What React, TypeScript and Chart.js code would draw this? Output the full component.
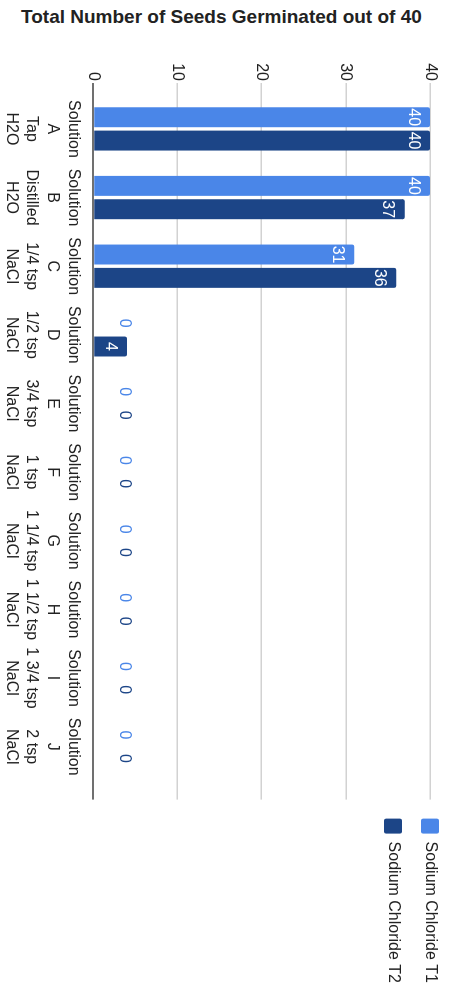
import React, { useEffect, useRef } from 'react';
import { Chart, registerables } from 'chart.js';

Chart.register(...registerables);

// ---- data ----
const chartTitle = 'Total Number of Seeds Germinated out of 40';
const categoryLabels: string[][] = [
  ['Solution', 'A', 'Tap', 'H2O'],
  ['Solution', 'B', 'Distilled', 'H2O'],
  ['Solution', 'C', '1/4 tsp', 'NaCl'],
  ['Solution', 'D', '1/2 tsp', 'NaCl'],
  ['Solution', 'E', '3/4 tsp', 'NaCl'],
  ['Solution', 'F', '1 tsp', 'NaCl'],
  ['Solution', 'G', '1 1/4 tsp', 'NaCl'],
  ['Solution', 'H', '1 1/2 tsp', 'NaCl'],
  ['Solution', 'I', '1 3/4 tsp', 'NaCl'],
  ['Solution', 'J', '2 tsp', 'NaCl'],
];
const seriesNames = ['Sodium Chloride T1', 'Sodium Chloride T2'];
const t1Values = [40, 40, 31, 0, 0, 0, 0, 0, 0, 0];
const t2Values = [40, 37, 36, 4, 0, 0, 0, 0, 0, 0];
const valueMin = 0;
const valueMax = 40;
const valueStep = 10;

// ---- styles ----
const COLORS = ['#4a86e8', '#1c4587'];
const FONT = '"Liberation Sans", Arial, Helvetica, sans-serif';
const TEXT = '#222222';
const W_U = 954; // unrotated canvas width (page vertical)
const H_U = 449; // unrotated canvas height (page horizontal)

const barLabelPlugin = {
  id: 'barLabels',
  afterDatasetsDraw(chart: any) {
    const ctx = chart.ctx;
    ctx.save();
    ctx.font = `16px ${FONT}`;
    ctx.textAlign = 'center';
    ctx.textBaseline = 'middle';
    chart.data.datasets.forEach((ds: any, di: number) => {
      const meta = chart.getDatasetMeta(di);
      meta.data.forEach((bar: any, i: number) => {
        const v = ds.data[i].y;
        const { x, y, base } = bar.getProps(['x', 'y', 'base'], true);
        const len = base - y;
        if (len > 24) {
          ctx.fillStyle = '#ffffff';
          ctx.fillText(String(v), x, y + 17);
        } else {
          ctx.fillStyle = COLORS[di];
          ctx.fillText(String(v), x, base - 31);
        }
      });
    });
    ctx.restore();
  },
};

export default function App() {
  const canvasRef = useRef<HTMLCanvasElement | null>(null);

  useEffect(() => {
    const canvas = canvasRef.current;
    if (!canvas) return;
    const seriesValues = [t1Values, t2Values];
    const chart = new Chart(canvas, {
      type: 'bar',
      data: {
        datasets: seriesNames.map((name, si) => ({
          label: name,
          data: seriesValues[si].map((v, i) => ({ x: i, y: v })),
          backgroundColor: COLORS[si],
          borderWidth: 0,
          borderRadius: 2,
          categoryPercentage: 0.68,
          barPercentage: 0.855,
        })),
      },
      options: {
        animation: false,
        responsive: false,
        devicePixelRatio: 1,
        layout: { padding: { top: -9, right: 1, bottom: 0, left: 0 } },
        plugins: {
          title: { display: false },
          tooltip: { enabled: false },
          legend: {
            display: true,
            position: 'right',
            align: 'start',
            labels: {
              font: { family: FONT, size: 16 },
              color: TEXT,
              boxWidth: 15,
              boxHeight: 18,
              padding: 19,
              useBorderRadius: true,
              borderRadius: 2,
            },
          },
        },
        scales: {
          x: {
            type: 'linear',
            position: 'bottom',
            offset: false,
            min: -0.6688,
            max: 9.7706,
            afterBuildTicks: (axis: any) => {
              axis.ticks = categoryLabels.map((_, i) => ({ value: i }));
            },
            afterFit: (s: any) => {
              s.height = 93.3;
            },
            grid: { display: false, drawTicks: false, offset: false },
            border: { display: false },
            ticks: {
              autoSkip: false,
              maxRotation: 0,
              minRotation: 0,
              padding: 10,
              color: TEXT,
              font: { family: FONT, size: 16, lineHeight: 1.29 },
              callback: (value: any) => categoryLabels[Math.round(Number(value))] || '',
            },
          },
          topSpacer: {
            type: 'linear',
            position: 'top',
            display: true,
            grid: { display: false, drawTicks: false },
            border: { display: false },
            ticks: { display: false },
            afterFit: (s: any) => {
              s.height = 28;
            },
          },
          y: {
            type: 'linear',
            position: 'left',
            min: valueMin,
            max: valueMax,
            afterFit: (s: any) => {
              s.width = 43;
            },
            border: { display: false },
            grid: {
              drawTicks: false,
              color: (c: any) => (c.tick && c.tick.value === 0 ? '#707070' : '#d2d2d2'),
              lineWidth: (c: any) => (c.tick && c.tick.value === 0 ? 2 : 1.5),
            },
            ticks: {
              stepSize: valueStep,
              padding: 2,
              color: TEXT,
              font: { family: FONT, size: 16 },
            },
          },
        },
      } as any,
      plugins: [barLabelPlugin],
    });
    return () => chart.destroy();
  }, []);

  return (
    <div
      style={{
        position: 'fixed',
        left: 0,
        top: 0,
        width: 449,
        height: 994,
        overflow: 'hidden',
        background: '#ffffff',
      }}
    >
      <div
        style={{
          position: 'absolute',
          left: 21,
          top: 6,
          fontFamily: FONT,
          fontWeight: 'bold',
          fontSize: 19,
          color: TEXT,
          whiteSpace: 'nowrap',
        }}
      >
        {chartTitle}
      </div>
      <canvas
        ref={canvasRef}
        width={W_U}
        height={H_U}
        style={{
          position: 'absolute',
          left: 0,
          top: 0,
          width: W_U,
          height: H_U,
          transformOrigin: '0 0',
          transform: 'translate(449px, 40px) rotate(90deg)',
        }}
      />
    </div>
  );
}
